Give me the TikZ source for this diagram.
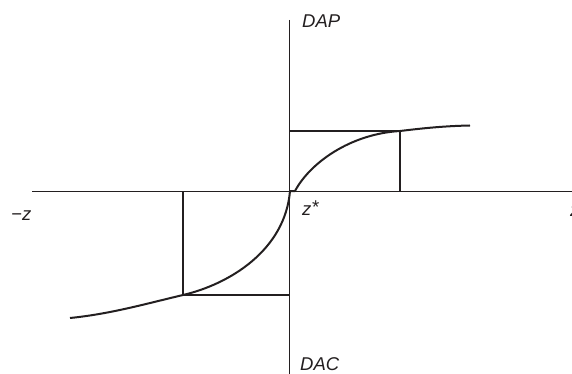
\documentclass[tikz,border=0pt]{standalone}
\definecolor{inkdark}{RGB}{35,31,32}
\usepackage{fontspec}
\setmainfont{Liberation Sans}
\usepackage{tikz}
\usetikzlibrary{positioning,calc}

\begin{document}
\begin{tikzpicture}[x=1pt, y=-1pt, line join=round,
    axisline/.style={draw=inkdark, line width=0.8pt},
    boxline/.style={draw=inkdark, line width=1.7pt},
    curveline/.style={draw=inkdark, line width=2pt},
    axislabel/.style={inner sep=0pt, anchor=base west, text=inkdark,
                      font=\fontsize{18.5}{22}\selectfont\itshape}]
    \useasboundingbox (0,0) rectangle (572,374);
    % axes
    \coordinate (xleft) at (32,191);
    \coordinate (xright) at (575,191);
    \coordinate (ytop) at (289.5,20);
    \coordinate (ybottom) at (289.5,376);
    \draw[axisline] (xleft) -- (xright);
    \draw[axisline] (ytop) -- (ybottom);
    % labels
    \node[axislabel] (dap) at (302,28) {DAP};
    \node[axislabel] (dac) at (300,370) {DAC};
    \node[axislabel] (negz) at (11,220) {−z};
    \node[axislabel] (zstar) at (302,215) {z\raisebox{1.5pt}{*}};
    \node[axislabel] (posz) at (570,216) {z};
    % corners of the two boxes
    \coordinate (upcorner) at (400,131);
    \coordinate (upfoot) at (400,191);
    \coordinate (upaxis) at (289.5,131);
    \coordinate (lowcorner) at (183,295);
    \coordinate (lowfoot) at (183,191);
    \coordinate (lowaxis) at (289.5,295);
    \draw[boxline] (upaxis) -- (upcorner) -- (upfoot);
    \draw[boxline] (lowfoot) -- (lowcorner) -- (lowaxis);
    % the curve
    \coordinate (cstart) at (70,318);
    \coordinate (corigin) at (290,191);
    \coordinate (cright) at (295,191);
    \coordinate (cend) at (470,125.5);
    \draw[curveline] (cstart) .. controls (110,314) and (145,304) .. (lowcorner)
      .. controls (230,284) and (285,250) .. (corigin) -- (cright)
      .. controls (310,163) and (350,134) .. (upcorner)
      .. controls (425,128) and (445,126) .. (cend);
\end{tikzpicture}
\end{document}
